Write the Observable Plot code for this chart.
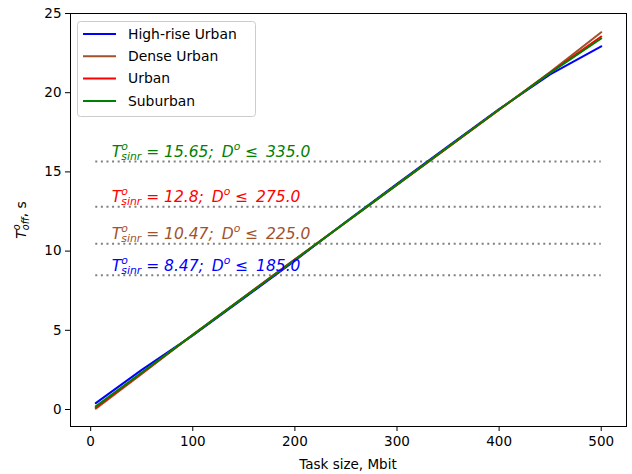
<!DOCTYPE html>
<html><head><meta charset="utf-8">
<script src="https://cdn.jsdelivr.net/npm/d3@7"></script>
<script src="https://cdn.jsdelivr.net/npm/@observablehq/plot@0.6"></script>
<style>
body{margin:0;background:#fff}
#chart{width:632px;height:474px}
</style>
</head><body><div id="chart"></div>
<script>
// ---- data ----
const taskSize = [5, 50, 100, 150, 200, 250, 300, 350, 400, 450, 500];
const highRiseUrban = [0.40, 2.50, 4.68, 7.02, 9.40, 11.85, 14.25, 16.62, 18.97, 21.15, 22.93];
const denseUrban    = [0.05, 2.25, 4.72, 7.10, 9.48, 11.82, 14.18, 16.55, 18.92, 21.30, 23.82];
const urban         = [0.12, 2.30, 4.71, 7.09, 9.46, 11.82, 14.19, 16.56, 18.93, 21.27, 23.55];
const suburban      = [0.20, 2.34, 4.71, 7.08, 9.45, 11.83, 14.20, 16.57, 18.94, 21.25, 23.42];
const seriesNames  = ["High-rise Urban", "Dense Urban", "Urban", "Suburban"];
const seriesColors = ["#0000ff", "#a0522d", "#ff0000", "#008000"];
const thresholdT      = [15.65, 12.8, 10.47, 8.47];
const thresholdTLabel = ["15.65", "12.8", "10.47", "8.47"];
const thresholdD      = ["335.0", "275.0", "225.0", "185.0"];
const thresholdColors = ["#008000", "#ff0000", "#a0522d", "#0000ff"];
const xTicks = [0, 100, 200, 300, 400, 500];
const yTicks = [0, 5, 10, 15, 20, 25];
const xLabel = "Task size, Mbit";

// ---- tables ----
const seriesValues = [highRiseUrban, denseUrban, urban, suburban];
const rows = [];
seriesNames.forEach((name, s) => taskSize.forEach((x, i) => rows.push({series: name, x, y: seriesValues[s][i]})));
const thresholds = thresholdT.map((t, i) => ({t, tl: thresholdTLabel[i], d: thresholdD[i], color: thresholdColors[i]}));

const font = "DejaVu Sans, Liberation Sans, sans-serif";
const annSize = 15.5;

const chart = Plot.plot({
  width: 632, height: 474,
  marginLeft: 70, marginRight: 6, marginTop: 13, marginBottom: 48,
  style: {fontFamily: font, fontSize: "13.5px", background: "white", color: "black"},
  x: {domain: [-19.75, 524.75]},
  y: {domain: [-1.073, 25]},
  color: {domain: seriesNames, range: seriesColors},
  marks: [
    Plot.ruleY(thresholds, {y: "t", x1: taskSize[0], x2: taskSize[taskSize.length - 1], stroke: "#808080", strokeWidth: 2, strokeDasharray: "2,3.6"}),
    Plot.line(rows, {x: "x", y: "y", z: "series", stroke: "series", strokeWidth: 2, curve: "linear"}),
    Plot.text(thresholds, {x: taskSize[0], dx: 16, y: d => d.t + 0.3, text: d => `T o sinr = ${d.tl};  D o ≤ ${d.d}`, fill: "color", textAnchor: "start", lineAnchor: "bottom", fontSize: annSize, fontStyle: "italic"}),
    Plot.frame({stroke: "black", strokeWidth: 1}),
    Plot.axisX({ticks: xTicks, tickSize: 5, tickPadding: 5, label: null, fontSize: 13.5}),
    Plot.axisY({ticks: yTicks, tickSize: 5, tickPadding: 4, label: null, fontSize: 13.5})
  ]
});
document.getElementById("chart").appendChild(chart);

const svg = d3.select(chart);

// helper to build math-like text with sup/sub tspans
function buildMath(textSel, parts, base) {
  textSel.text(null);
  let cur = 0;
  let lastSupWidth = 0;
  parts.forEach(p => {
    const target = p.k === "sup" ? -0.45 * base : p.k === "sub" ? 0.22 * base : 0;
    const ts = textSel.append("tspan").text(p.t);
    if (p.k !== "n") ts.attr("font-size", (0.7 * base) + "px");
    if (p.style) ts.attr("font-style", p.style);
    const dy = target - cur;
    if (dy !== 0) ts.attr("dy", dy);
    cur = target;
    if (p.k === "sub" && p.stack) ts.attr("dx", -lastSupWidth);
    if (p.k === "sup") lastSupWidth = ts.node().getComputedTextLength();
  });
}

// annotations
svg.selectAll('g[aria-label="text"] text').each(function(i) {
  const d = thresholds[i];
  buildMath(d3.select(this), [
    {t: "T", k: "n"},
    {t: "o", k: "sup"},
    {t: "sinr", k: "sub", stack: true},
    {t: ` = ${d.tl};\u2009 D`, k: "n"},
    {t: "o", k: "sup"},
    {t: ` ≤\u2002${d.d}`, k: "n"}
  ], annSize);
});

// axis labels
svg.append("text")
  .attr("x", (70 + 626) / 2).attr("y", 469)
  .attr("text-anchor", "middle")
  .attr("font-family", font).attr("font-size", "13.5px").attr("fill", "black")
  .text(xLabel);

const yl = svg.append("text")
  .attr("transform", "translate(26,220) rotate(-90)")
  .attr("text-anchor", "middle")
  .attr("font-family", font).attr("font-size", "13.9px").attr("fill", "black");
buildMath(yl, [
  {t: "T", k: "n", style: "italic"},
  {t: "o", k: "sup", style: "italic"},
  {t: "off", k: "sub", stack: true, style: "italic"},
  {t: ", s", k: "n"}
], 13.9);

// legend
const lg = svg.append("g").attr("font-family", font).attr("font-size", "13.9px");
lg.append("rect").attr("x", 77.5).attr("y", 21.5).attr("width", 178).attr("height", 95)
  .attr("rx", 3).attr("fill", "white").attr("fill-opacity", 0.8).attr("stroke", "#cccccc");
seriesNames.forEach((name, i) => {
  const yy = 34 + i * 22.3;
  lg.append("line").attr("x1", 83).attr("x2", 116).attr("y1", yy).attr("y2", yy)
    .attr("stroke", seriesColors[i]).attr("stroke-width", 2);
  lg.append("text").attr("x", 128).attr("y", yy).attr("dy", "0.35em")
    .attr("text-anchor", "start").attr("fill", "black").text(name);
});
</script>
</body></html>
